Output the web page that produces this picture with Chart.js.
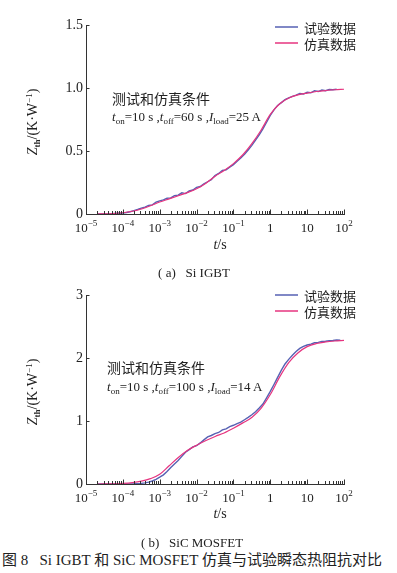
<!DOCTYPE html>
<html>
<head>
<meta charset="utf-8">
<script src="https://cdn.jsdelivr.net/npm/chart.js@4/dist/chart.umd.min.js"></script>
<style>
body{margin:0;background:#fff;width:397px;height:573px;position:relative;overflow:hidden;font-family:"Liberation Serif","Noto Sans CJK SC",serif;color:#222;}
canvas{position:absolute;left:0;}
.t{position:absolute;white-space:pre;line-height:1;font-size:14px;}
.c{transform:translate(-50%,-50%);}
.r{transform:translate(-50%,-50%) rotate(-90deg);}
.zh{font-family:"Noto Sans CJK SC",sans-serif;}
.sb{font-size:9px;position:relative;top:3px;}
.sp{font-size:9px;position:relative;top:-5px;}
</style>
</head>
<body>
<canvas id="chartA" width="397" height="260" style="top:0"></canvas>
<canvas id="chartB" width="397" height="260" style="top:270px"></canvas>

<div class="t r" style="left:33px;top:122px"><i>Z</i><span class="sb"><b>th</b></span>/(K·W<span class="sp">−1</span>)</div>
<div class="t c" style="left:220px;top:245px"><i>t</i>/s</div>
<div class="t zh" style="left:112px;top:91px">测试和仿真条件</div>
<div class="t" style="left:112px;top:110px;font-size:13px"><i>t</i><span class="sb">on</span>=10 s ,<i>t</i><span class="sb">off</span>=60 s ,<i>I</i><span class="sb">load</span>=25 A</div>
<div class="t c" style="left:194px;top:272px;font-size:13px">( a)   Si IGBT</div>

<div class="t r" style="left:33px;top:392px"><i>Z</i><span class="sb"><b>th</b></span>/(K·W<span class="sp">−1</span>)</div>
<div class="t c" style="left:220px;top:514px"><i>t</i>/s</div>
<div class="t zh" style="left:107px;top:360px">测试和仿真条件</div>
<div class="t" style="left:107px;top:380px;font-size:13px"><i>t</i><span class="sb">on</span>=10 s ,<i>t</i><span class="sb">off</span>=100 s ,<i>I</i><span class="sb">load</span>=14 A</div>
<div class="t c" style="left:192px;top:542px;font-size:13px">( b)   SiC MOSFET</div>

<div class="t" style="left:2px;top:553px;font-size:15px">图 8   Si IGBT 和 SiC MOSFET 仿真与试验瞬态热阻抗对比</div>

<script>
// x axis (log time)
let xTicks = [1e-5, 1e-4, 1e-3, 1e-2, 1e-1, 1, 10, 100];
let xLabelBase = ['10', '10', '10', '10', '10', '1', '10', '10'];
let xLabelSup = ['−5', '−4', '−3', '−2', '−1', '', '', '2'];

// (a) Si IGBT
let yTicksA = [0, 0.5, 1.0, 1.5];
let yLabelsA = ['0', '0.5', '1.0', '1.5'];
let tSimA = [2e-5, 3.2e-5, 5.6e-5, 1e-4, 1.8e-4, 3.2e-4, 5.6e-4, 1e-3, 1.8e-3, 3.2e-3, 5.6e-3, 1e-2, 1.8e-2, 3.2e-2, 5.6e-2,
    0.1, 0.18, 0.32, 0.56, 1, 1.8, 3.2, 5.6, 10, 18, 32, 56, 100];
let zSimA = [0, 0.001, 0.004, 0.010, 0.022, 0.040, 0.065, 0.095, 0.120, 0.145, 0.170, 0.200, 0.245, 0.300, 0.345,
    0.400, 0.470, 0.560, 0.665, 0.790, 0.875, 0.920, 0.945, 0.960, 0.972, 0.980, 0.986, 0.990];
let tExpA = [2e-5, 4e-5,
    1e-4, 1.26e-4, 1.58e-4, 2e-4, 2.51e-4, 3.16e-4, 3.98e-4, 5.01e-4, 6.31e-4, 7.94e-4,
    1e-3, 1.26e-3, 1.58e-3, 2e-3, 2.51e-3, 3.16e-3, 3.98e-3, 5.01e-3, 6.31e-3, 7.94e-3,
    1e-2, 1.26e-2, 1.58e-2, 2e-2, 2.51e-2, 3.16e-2, 3.98e-2, 5.01e-2, 6.31e-2, 7.94e-2,
    0.1, 0.126, 0.158, 0.2, 0.251, 0.316, 0.398, 0.501, 0.631, 0.794,
    1, 1.26, 1.58, 2, 2.51, 3.16, 3.98, 5.01, 6.31, 7.94,
    10, 12.6, 15.8, 20, 25.1, 31.6, 39.8, 50.1, 63.1];
let zExpA = [0, 0,
    0.008, 0.012, 0.018, 0.027, 0.036, 0.046, 0.055, 0.068, 0.072, 0.094,
    0.104, 0.112, 0.125, 0.128, 0.146, 0.150, 0.168, 0.162, 0.184, 0.190,
    0.212, 0.218, 0.240, 0.256, 0.272, 0.306, 0.322, 0.345, 0.350, 0.372,
    0.392, 0.418, 0.445, 0.474, 0.508, 0.545, 0.586, 0.628, 0.676, 0.728,
    0.782, 0.826, 0.862, 0.884, 0.908, 0.922, 0.934, 0.944, 0.956, 0.952,
    0.966, 0.962, 0.978, 0.972, 0.984, 0.978, 0.988, 0.986, 0.990];

// (b) SiC MOSFET
let yTicksB = [0, 1, 2, 3];
let yLabelsB = ['0', '1', '2', '3'];
let tSimB = tSimA;
let zSimB = [0, 0.001, 0.004, 0.010, 0.022, 0.045, 0.085, 0.155, 0.290, 0.420, 0.530, 0.615, 0.690, 0.755, 0.810,
    0.885, 0.970, 1.060, 1.200, 1.420, 1.700, 1.930, 2.080, 2.180, 2.230, 2.255, 2.270, 2.280];
let tExpB = tExpA.concat([79.4]);
let zExpB = [0, 0,
    0.000, 0.001, 0.002, 0.003, 0.006, 0.010, 0.018, 0.030, 0.048, 0.075,
    0.108, 0.145, 0.200, 0.262, 0.318, 0.372, 0.438, 0.505, 0.545, 0.588,
    0.608, 0.652, 0.700, 0.748, 0.770, 0.800, 0.818, 0.858, 0.876, 0.912,
    0.932, 0.960, 0.982, 1.020, 1.058, 1.100, 1.148, 1.206, 1.270, 1.368,
    1.470, 1.580, 1.692, 1.808, 1.905, 1.978, 2.045, 2.102, 2.152, 2.184,
    2.206, 2.220, 2.242, 2.248, 2.263, 2.266, 2.276, 2.278, 2.286, 2.281];

let blue = '#5661b3';
let pink = '#e6347f';

// inner ticks, log minor ticks, x labels with exponents, legend
const axisExtras = {
    id: 'axisExtras',
    afterDraw(chart, args, opts) {
        let c = chart.ctx;
        let xs = chart.scales.x;
        let ys = chart.scales.y;
        let bottom = chart.chartArea.bottom;
        let left = chart.chartArea.left;
        c.save();
        c.strokeStyle = '#333';
        c.lineWidth = 1;
        c.beginPath();
        for (let n = -5; n < 2; n++) {
            for (let m = 2; m < 10; m++) {
                let px = Math.round(xs.getPixelForValue(m * Math.pow(10, n))) + 0.5;
                c.moveTo(px, bottom);
                c.lineTo(px, bottom - 3);
            }
        }
        xTicks.forEach(v => {
            let px = Math.round(xs.getPixelForValue(v)) + 0.5;
            c.moveTo(px, bottom);
            c.lineTo(px, bottom - 4.5);
        });
        ys.ticks.forEach(t => {
            let py = Math.round(ys.getPixelForValue(t.value)) + 0.5;
            c.moveTo(left, py);
            c.lineTo(left + 3.5, py);
        });
        c.stroke();

        c.fillStyle = '#222';
        c.textBaseline = 'alphabetic';
        c.textAlign = 'left';
        xTicks.forEach((v, i) => {
            c.font = '13px "Liberation Serif"';
            let w1 = c.measureText(xLabelBase[i]).width;
            c.font = '9px "Liberation Serif"';
            let w2 = c.measureText(xLabelSup[i]).width;
            let x0 = xs.getPixelForValue(v) - (w1 + w2) / 2;
            c.font = '13px "Liberation Serif"';
            c.fillText(xLabelBase[i], x0, bottom + 18);
            c.font = '9px "Liberation Serif"';
            c.fillText(xLabelSup[i], x0 + w1, bottom + 12);
        });

        let lg = opts.legend;
        c.font = '13px "Noto Sans CJK SC"';
        c.textBaseline = 'middle';
        chart.data.datasets.forEach((ds, i) => {
            let y = lg.y + i * lg.gap;
            c.strokeStyle = ds.borderColor;
            c.lineWidth = 1.5;
            c.beginPath();
            c.moveTo(lg.x, y);
            c.lineTo(lg.x + 23, y);
            c.stroke();
            c.fillText(ds.label, lg.x + 29, y + 1);
        });
        c.restore();
    }
};

function makeChart(id, tSim, zSim, tExp, zExp, yTicks, yLabels, legendY) {
    let ctx = document.getElementById(id).getContext('2d');
    let expData = tExp.map((t, i) => ({x: t, y: zExp[i]}));
    let simData = tSim.map((t, i) => ({x: t, y: zSim[i]}));
    return new Chart(ctx, {
        type: 'line',
        data: {
            datasets: [{
                label: '试验数据',
                data: expData,
                borderColor: blue,
                borderWidth: 1.4,
                pointRadius: 0,
                tension: 0,
                order: 1
            },
                {
                    label: '仿真数据',
                    data: simData,
                    borderColor: pink,
                    borderWidth: 1.2,
                    pointRadius: 0,
                    cubicInterpolationMode: 'monotone',
                    order: 0
                }
            ]
        },
        options: {
            responsive: false,
            animation: false,
            devicePixelRatio: 1,
            events: [],
            layout: {
                padding: {left: 56, right: 53, top: 25, bottom: 26}
            },
            scales: {
                x: {
                    type: 'logarithmic',
                    min: 1e-5,
                    max: 100,
                    grid: {display: false, drawTicks: false},
                    border: {display: true, color: '#333', width: 1},
                    ticks: {display: false},
                    afterBuildTicks: s => { s.ticks = xTicks.map(v => ({value: v})); },
                    afterFit: s => { s.height = 20; }
                },
                y: {
                    type: 'linear',
                    min: yTicks[0],
                    max: yTicks[yTicks.length - 1],
                    grid: {display: false, drawTicks: false},
                    border: {display: true, color: '#333', width: 1},
                    ticks: {
                        color: '#222',
                        padding: 3,
                        font: {family: 'Liberation Serif', size: 14},
                        callback: (v, i) => yLabels[i]
                    },
                    afterBuildTicks: s => { s.ticks = yTicks.map(v => ({value: v})); },
                    afterFit: s => { s.width = 30; }
                }
            },
            plugins: {
                legend: {display: false},
                tooltip: {enabled: false},
                axisExtras: {legend: {x: 275, y: legendY, gap: 16}}
            }
        },
        plugins: [axisExtras]
    });
}

makeChart('chartA', tSimA, zSimA, tExpA, zExpA, yTicksA, yLabelsA, 27);
makeChart('chartB', tSimB, zSimB, tExpB, zExpB, yTicksB, yLabelsB, 25);
</script>
</body>
</html>
